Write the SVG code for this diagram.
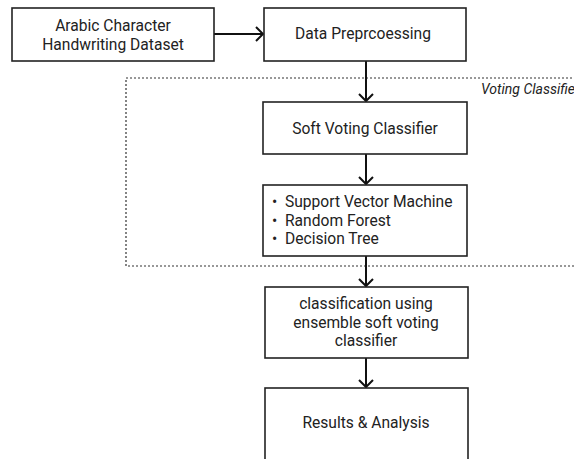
<svg xmlns="http://www.w3.org/2000/svg" width="574" height="459" viewBox="0 0 574 459">
<defs>
<style>
.box{fill:#fff;stroke:#222;stroke-width:1.6}
.t{font-family:Roboto,"Liberation Sans",sans-serif;font-size:15.6px;fill:#222;text-anchor:middle}
.tl{font-family:Roboto,"Liberation Sans",sans-serif;font-size:15.6px;fill:#222}
.edge{stroke:#111;stroke-width:2;fill:none}
.head{stroke:#111;stroke-width:2;fill:none;stroke-linejoin:miter}
</style>
</defs>
<rect width="574" height="459" fill="#fff"/>
<g id="voting-group">
<rect x="126" y="78" width="470" height="188" fill="none" stroke="#333" stroke-width="1.2" stroke-dasharray="2,2"/>
<text x="481" y="94" font-family="Roboto,'Liberation Sans',sans-serif" font-size="14" font-style="italic" fill="#222">Voting Classifier</text>
</g>
<g id="connectors">
<path class="edge" d="M214 34 H262"/><path class="head" d="M256 27 L263 34 L256 41"/>
<path class="edge" d="M366 61 V101"/><path class="head" d="M359 94 L366 101 L373 94"/>
<path class="edge" d="M366 154 V184"/><path class="head" d="M359 177 L366 184 L373 177"/>
<path class="edge" d="M366 256 V286"/><path class="head" d="M359 279 L366 286 L373 279"/>
<path class="edge" d="M366 358 V387"/><path class="head" d="M359 380 L366 387 L373 380"/>
</g>
<g id="dataset">
<rect class="box" x="12" y="8" width="202" height="53"/>
<text class="t" x="113" y="31">Arabic Character</text>
<text class="t" x="113" y="50">Handwriting Dataset</text>
</g>
<g id="preprocessing">
<rect class="box" x="264" y="8" width="202" height="53"/>
<text class="t" x="363" y="39">Data Preprcoessing</text>
</g>
<g id="soft-voting">
<rect class="box" x="263" y="102" width="204" height="52"/>
<text class="t" x="365" y="134">Soft Voting Classifier</text>
</g>
<g id="models">
<rect class="box" x="263" y="185" width="204" height="71"/>
<text class="tl" x="272" y="207">•</text><text class="tl" x="285" y="207">Support Vector Machine</text>
<text class="tl" x="272" y="226">•</text><text class="tl" x="285" y="226">Random Forest</text>
<text class="tl" x="272" y="244">•</text><text class="tl" x="285" y="244">Decision Tree</text>
</g>
<g id="classification">
<rect class="box" x="265" y="287" width="203" height="71"/>
<text class="t" x="366" y="309">classification using</text>
<text class="t" x="366" y="328">ensemble soft voting</text>
<text class="t" x="366" y="346">classifier</text>
</g>
<g id="results">
<rect class="box" x="265" y="388" width="203" height="90"/>
<text class="t" x="366" y="428">Results &amp; Analysis</text>
</g>
</svg>
